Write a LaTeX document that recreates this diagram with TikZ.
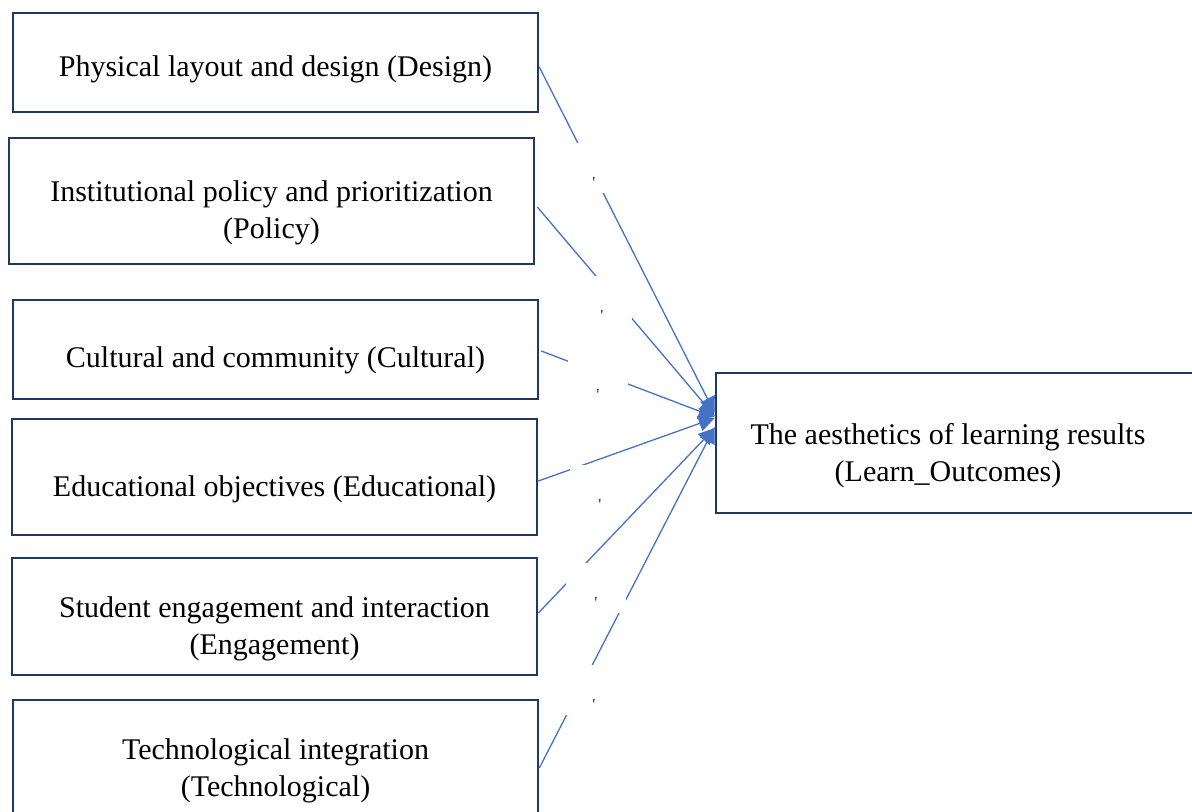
\documentclass[tikz,border=0pt]{standalone}
\usepackage{fontspec}
\setmainfont{Liberation Serif}
\usetikzlibrary{calc,positioning,arrows.meta}
\definecolor{boxnavy}{HTML}{1F3864}
\definecolor{linkblue}{HTML}{4472C4}
\definecolor{tickgrey}{HTML}{303030}

\begin{document}
\begin{tikzpicture}[x=0.5pt,y=-0.5pt,
	box/.style={draw=boxnavy,line width=1.3pt,fill=none,inner sep=0pt,minimum width=262.5pt},
	txt/.style={align=center,inner sep=0pt,font=\fontsize{15}{18.5}\selectfont},
	link/.style={color=linkblue,line width=0.65pt,-{Triangle[length=8pt,width=8pt]}},
	gapbox/.style={fill=white,inner sep=0pt,minimum width=30pt,minimum height=25pt},
	tick/.style={text=tickgrey,inner sep=0pt,font=\fontsize{8.5}{9}\selectfont}]
	\clip (0,0) rectangle (1192,811);
	% boxes
	\node[box,minimum height=49.5pt](1) at (275.5,62.5) {};
	\node[box,minimum height=63pt]  (2) at (271.5,201) {};
	\node[box,minimum height=49.5pt](3) at (275.5,349.5) {};
	\node[box,minimum height=58pt]  (4) at (274.5,477) {};
	\node[box,minimum height=58.5pt](5) at (274.5,616.5) {};
	\node[box,minimum height=57.5pt](6) at (275.5,757.5) {};
	\node[box,minimum height=70pt]  (7) at (978.5,443) {};
	% texts
	\node[txt](t1) at (275.5,69.5) {Physical layout and design (Design)};
	\node[txt](t2) at (271.5,212.5) {Institutional policy and prioritization\\(Policy)};
	\node[txt](t3) at (275.5,360.5) {Cultural and community (Cultural)};
	\node[txt](t4) at (274.5,489.5) {Educational objectives (Educational)};
	\node[txt](t5) at (274.5,628.5) {Student engagement and interaction\\(Engagement)};
	\node[txt](t6) at (275.5,770.5) {Technological integration\\(Technological)};
	\node[txt](t7) at (948,455.5) {The aesthetics of learning results\\(Learn\_Outcomes)};
	% links
	\path
		($(1.east)+(0,4.5)$) edge[link] ($(7.west)+(0,-30)$)
		($(2.east)+(2,6)$) edge[link] ($(7.west)+(0,-27)$)
		($(3.east)+(2,1.5)$) edge[link] ($(7.west)+(0,-26)$)
		($(4.east)+(0,4)$) edge[link] ($(7.west)+(0,-25)$)
		($(5.east)+(0,-3.5)$) edge[link] ($(7.west)+(0,-15)$)
		($(6.east)+(0,10.5)$) edge[link] ($(7.west)+(0,-16)$);
	% label boxes over the links
	\node[gapbox](g1) at (594,168) {};
	\node[gapbox](g2) at (602,301) {};
	\node[gapbox](g3) at (598,380) {};
	\node[gapbox](g4) at (600,490) {};
	\node[gapbox](g5) at (596,588) {};
	\node[gapbox](g6) at (594,690) {};
	\node[tick](k1) at ($(g1.center)+(0,15)$) {\textquotesingle};
	\node[tick](k2) at ($(g2.center)+(0,15)$) {\textquotesingle};
	\node[tick](k3) at ($(g3.center)+(0,15)$) {\textquotesingle};
	\node[tick](k4) at ($(g4.center)+(0,15)$) {\textquotesingle};
	\node[tick](k5) at ($(g5.center)+(0,15)$) {\textquotesingle};
	\node[tick](k6) at ($(g6.center)+(0,15)$) {\textquotesingle};
\end{tikzpicture}
\end{document}
